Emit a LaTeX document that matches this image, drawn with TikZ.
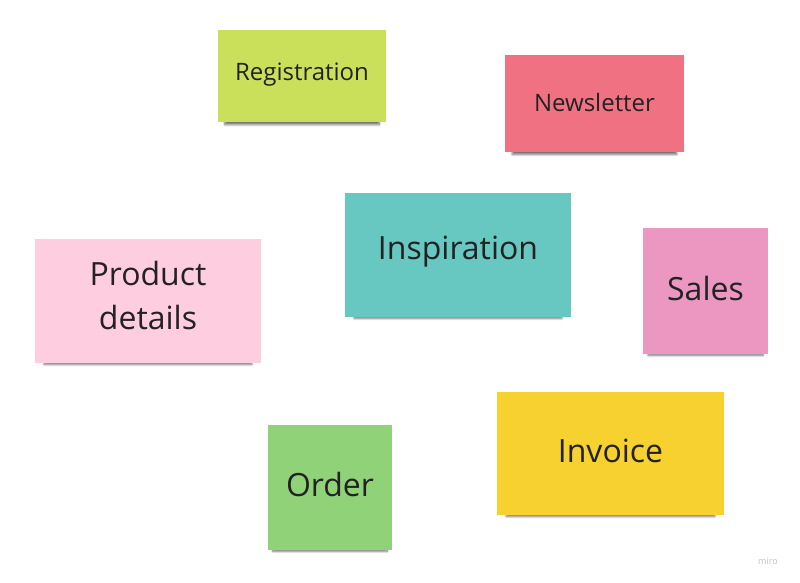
\documentclass[tikz,border=0pt]{standalone}
\usepackage{fontspec}
\setmainfont{Open Sans}
\usetikzlibrary{shadows.blur}
\definecolor{cReg}{HTML}{CBE05A}
\definecolor{cNews}{HTML}{F07282}
\definecolor{cInsp}{HTML}{67C7C1}
\definecolor{cProd}{HTML}{FECDE0}
\definecolor{cSales}{HTML}{EB97C1}
\definecolor{cInv}{HTML}{F6D12F}
\definecolor{cOrder}{HTML}{90D278}
\definecolor{txt}{HTML}{222222}
\tikzset{
  sticky/.style={inner sep=0pt,
    blur shadow={shadow xshift=0pt, shadow yshift=-7pt, shadow scale=0.92, shadow blur steps=10, shadow opacity=55}},
  label/.style={inner sep=0pt, text=txt, align=center},
  small/.style={font=\fontsize{24}{30}\selectfont, yshift=1pt},
  big/.style={font=\fontsize{32}{44}\selectfont, yshift=3pt},
  twoline/.style={font=\fontsize{32}{44}\selectfont, yshift=6pt},
}
\newcommand{\note}[8]{% name, x1,y1,x2,y2, colour, size style, text
  \node[sticky, fill=#6, minimum width={#4-#2}, minimum height={#5-#3}] (#1) at ({(#2+#4)/2},{(#3+#5)/2}) {};
  \node[label, #7] (#1-t) at (#1.center) {#8};}
\begin{document}
\begin{tikzpicture}[x=1pt,y=-1pt]
\useasboundingbox (0,0) rectangle (800,583);
\note{reg}{218}{30}{386}{122}{cReg}{small}{Registration}
\note{news}{505}{55}{684}{152}{cNews}{small}{Newsletter}
\note{insp}{345}{193}{571}{317}{cInsp}{big}{Inspiration}
\note{prod}{35}{239}{261}{363}{cProd}{twoline}{Product\\details}
\note{sales}{643}{228}{768}{354}{cSales}{big}{Sales}
\note{inv}{497}{392}{724}{515}{cInv}{big}{Invoice}
\note{ord}{268}{425}{392}{550}{cOrder}{big}{Order}
\node[text=black!25, inner sep=0pt, font=\fontsize{9}{11}\selectfont] (miro) at (768,561) {miro};
\end{tikzpicture}
\end{document}
